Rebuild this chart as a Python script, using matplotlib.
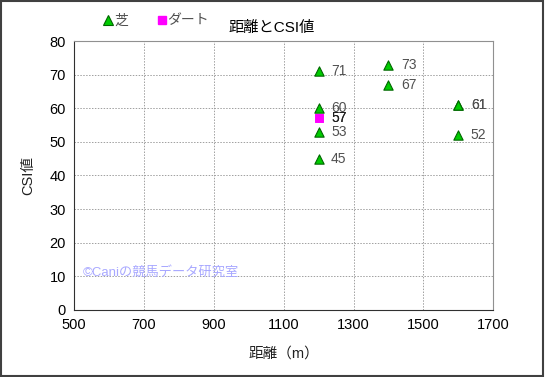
import matplotlib.pyplot as plt

plt.rcParams['font.family'] = ['Liberation Sans', 'Noto Sans CJK JP', 'DejaVu Sans']

# 芝 (turf)
turf_dist = [1200, 1200, 1200, 1200, 1400, 1400, 1600, 1600, 1600]
turf_csi = [71, 60, 53, 45, 73, 67, 61, 61, 52]
# ダート (dirt)
dirt_dist = [1200, 1200]
dirt_csi = [57, 57]

xticks = [500, 700, 900, 1100, 1300, 1500, 1700]
yticks = [0, 10, 20, 30, 40, 50, 60, 70, 80]

fig = plt.figure(figsize=(5.45, 3.77), dpi=100)
fig.patches.append(plt.Rectangle((0.002, 0.003), 0.995, 0.994, transform=fig.transFigure,
                                 fill=False, edgecolor='#404040', linewidth=1.5))
ax = fig.add_axes([0.136, 0.178, 0.769, 0.713])

ax.scatter(turf_dist, turf_csi, marker='^', s=45, c='#00cc00', edgecolors='#006600',
           linewidths=0.8, zorder=3)
ax.scatter(dirt_dist, dirt_csi, marker='s', s=38, c='#ff00ff', edgecolors='#ff00ff',
           linewidths=0.5, zorder=3)

for x, y in zip(turf_dist, turf_csi):
    ax.annotate(str(y), (x, y), xytext=(9, 0), textcoords='offset points',
                va='center', ha='left', fontsize=10, color='#505050')
for x, y in zip(dirt_dist, dirt_csi):
    ax.annotate(str(y), (x, y), xytext=(9, 0), textcoords='offset points',
                va='center', ha='left', fontsize=10, color='#202020')

ax.set_xlim(500, 1700)
ax.set_ylim(0, 80)
ax.set_xticks(xticks)
ax.set_yticks(yticks)
ax.tick_params(length=0, labelsize=10.5, pad=6)
ax.grid(True, linestyle=(0, (1.5, 1.5)), color='#a0a0a0', linewidth=0.7)
ax.set_axisbelow(True)
for side in ['top', 'right']:
    ax.spines[side].set_color('#909090')
for side in ['left', 'bottom']:
    ax.spines[side].set_color('#303030')

ax.set_xlabel('距離（m）', fontsize=10.5, color='#202020', labelpad=10)
ax.set_ylabel('CSI値', fontsize=10.5, color='#202020', labelpad=10)

fig.text(0.498, 0.926, '距離とCSI値', ha='center', va='center', fontsize=11)

# legend along the top
fig.lines.append(plt.Line2D([0.198], [0.946], transform=fig.transFigure, marker='^',
                            markersize=7, color='#00cc00', markeredgecolor='#006600',
                            markeredgewidth=0.8, linestyle='none'))
fig.text(0.21, 0.946, '芝', ha='left', va='center', fontsize=10, color='#505050')
fig.lines.append(plt.Line2D([0.297], [0.946], transform=fig.transFigure, marker='s',
                            markersize=6, color='#ff00ff', linestyle='none'))
fig.text(0.307, 0.946, 'ダート', ha='left', va='center', fontsize=10, color='#505050')

ax.text(0.02, 0.14, '©Caniの競馬データ研究室', transform=ax.transAxes, fontsize=9.5,
        color='#a8a8ff', ha='left', va='center')

fig.savefig('out.png', dpi=100)
